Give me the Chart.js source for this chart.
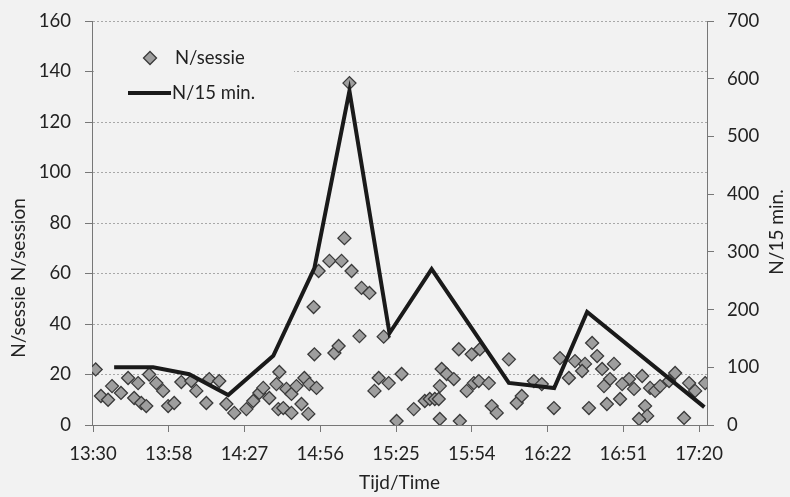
<!DOCTYPE html>
<html>
<head>
<meta charset="utf-8">
<script src="https://cdn.jsdelivr.net/npm/chart.js@4.4.1/dist/chart.umd.min.js"></script>
<style>
  html, body { margin: 0; padding: 0; background: #f2f2f2; }
  canvas { display: block; }
</style>
</head>
<body>
<canvas id="chart" width="790" height="497"></canvas>
<script>
// Minutes after 13:30 for the x axis
const tickMinutes = [0, 28.75, 57.5, 86.25, 115, 143.75, 172.5, 201.25, 230];
const tickLabels = ["13:30", "13:58", "14:27", "14:56", "15:25", "15:54", "16:22", "16:51", "17:20"];

// N/sessie (scatter, left axis)
const sessionMinutes = [
  1, 3, 5.7, 7.2, 10.6, 13.3, 15.6, 17.1, 18.3, 20.2, 21.3, 24, 26.6, 28.5, 30.8, 33.5,
  37.3, 39.2, 43, 44.1, 47.9, 50.6, 53.6, 58.2, 60.8, 63.1, 64.6, 66.9, 69.6, 70.7, 70.3,
  73.4, 75.3, 77.2, 80.2, 82.1, 84.8, 72.2, 75.3, 79.1, 81.7, 84, 83.7, 85.6, 89.7, 91.6,
  93.2, 94.3, 95.4, 97.3, 98.1, 101.1, 101.9, 104.9, 106.8, 108.4, 110.3, 112.2, 115.2,
  117.1, 121.7, 125.9, 127.8, 129.7, 131.2, 131.6, 131.6, 132.3, 134.2, 136.9, 138.8,
  139.2, 141.8, 143.7, 144.5, 146.4, 146.8, 150.2, 151.3, 153.2, 157.8, 160.8, 162.7,
  167.3, 170.3, 174.9, 177.2, 180.6, 182.9, 186.7, 185.6, 189.4, 191.3, 193.2, 197.7,
  196.2, 193.9, 203.4, 208.4, 205.3, 200.8, 211.4, 213.3, 215.2, 218.6, 220.9, 226.2,
  228.5, 232.3, 188.2, 195, 200, 209.5, 210.3, 207.2, 224.3
];
const sessionValues = [
  22, 11.5, 10, 15.4, 12.7, 18.6, 10.7, 16.6, 8.7, 7.5, 20, 16.6, 13.5, 7.5, 8.7, 17,
  17.4, 13.5, 8.7, 18.2, 17.4, 8.3, 4.8, 6.3, 9.5, 12.7, 14.7, 10.7, 16.2, 21, 6.3,
  14.3, 12.3, 15.4, 18.6, 16.2, 14.7, 6.7, 4.8, 8.3, 4.4, 28, 46.7, 61, 65, 28.5,
  31.3, 65, 74, 135.4, 61, 35.2, 54.3, 52.3, 13.5, 18.6, 35, 16.6, 1.6,
  20.2, 6.3, 9.5, 10.3, 10.3, 10.3, 15.4, 2.4, 22.2, 20.2, 18.2, 30,
  1.6, 13.5, 28, 16.6, 17.4, 30, 16.6, 7.5, 4.8, 26, 8.7, 11.5,
  17.4, 16.2, 6.7, 26.5, 18.6, 25.3, 24.2, 21.4, 32.5, 27.3, 22.2, 24.2,
  18.2, 15.4, 18.2, 19.4, 14.3, 16.2, 14.7, 13.5, 15.4, 17.4, 20.6, 16.6,
  13.5, 16.6, 6.7, 8.3, 10.3, 7.5, 3.6, 2.4, 2.8
];

// N/15 min. (line, right axis)
const lineMinutes = [8, 22.8, 36.5, 51.3, 68.4, 84, 97.3, 112.5, 128.5, 157.8, 175, 187.5, 232];
const lineValues = [100, 100, 88, 52, 120, 272, 579, 159, 270, 73, 64, 196, 31];

const FONT = "Lato, 'Open Sans', sans-serif";
const TEXT = "#222";
const AXIS = "#777";
const SIZE = 18.5;

const sessionPoints = sessionMinutes.map((m, i) => ({ x: m, y: sessionValues[i] }));
const linePoints = lineMinutes.map((m, i) => ({ x: m, y: lineValues[i] }));

// vertical axes: fixed width, no extra label padding above/below the plot
function fixVertical(width) {
  return (scale) => {
    scale.width = width;
    scale.paddingTop = 0;
    scale.paddingBottom = 0;
  };
}

// Legend box and rotated axis titles
const overlayPlugin = {
  id: 'overlay',
  afterDraw(chart) {
    const ctx = chart.ctx;
    ctx.save();
    // legend background hides the gridline behind it
    ctx.fillStyle = '#f2f2f2';
    ctx.fillRect(94, 36, 200, 72);
    // diamond
    ctx.beginPath();
    ctx.moveTo(150, 51.5); ctx.lineTo(156.5, 58); ctx.lineTo(150, 64.5); ctx.lineTo(143.5, 58);
    ctx.closePath();
    ctx.fillStyle = '#9e9e9e';
    ctx.fill();
    ctx.lineWidth = 1.3;
    ctx.strokeStyle = '#3a3a3a';
    ctx.stroke();
    // line
    ctx.beginPath();
    ctx.moveTo(128, 93); ctx.lineTo(171, 93);
    ctx.lineWidth = 4;
    ctx.strokeStyle = '#1a1a1a';
    ctx.stroke();
    ctx.fillStyle = TEXT;
    ctx.font = SIZE + "px " + FONT;
    ctx.textBaseline = 'middle';
    ctx.textAlign = 'left';
    ctx.fillText('N/sessie', 175, 58);
    ctx.fillText('N/15 min.', 172, 93);

    // axis titles
    ctx.textAlign = 'center';
    ctx.font = "19px " + FONT;
    ctx.save();
    ctx.translate(19, 278);
    ctx.rotate(-Math.PI / 2);
    ctx.fillText('N/sessie N/session', 0, 0);
    ctx.restore();
    ctx.save();
    ctx.translate(777, 232);
    ctx.rotate(-Math.PI / 2);
    ctx.fillText('N/15 min.', 0, 0);
    ctx.restore();
    ctx.restore();
  }
};

new Chart(document.getElementById('chart').getContext('2d'), {
  type: 'scatter',
  data: {
    datasets: [
      {
        label: 'N/15 min.',
        type: 'line',
        data: linePoints,
        yAxisID: 'y2',
        borderColor: '#1a1a1a',
        borderWidth: 4,
        pointRadius: 0,
        fill: false,
        tension: 0,
        order: 0
      },
      {
        label: 'N/sessie',
        data: sessionPoints,
        yAxisID: 'y',
        pointStyle: 'rectRot',
        pointRadius: 6.5,
        pointHoverRadius: 6.5,
        backgroundColor: '#9e9e9e',
        borderColor: '#3a3a3a',
        borderWidth: 1.3,
        order: 1
      }
    ]
  },
  options: {
    responsive: false,
    animation: false,
    devicePixelRatio: 1,
    layout: { padding: { top: 21, left: 0, right: 0, bottom: 0 } },
    plugins: { legend: { display: false }, tooltip: { enabled: false } },
    scales: {
      x: {
        type: 'linear',
        position: 'bottom',
        min: -0.4,
        max: 233,
        afterBuildTicks: (scale) => { scale.ticks = tickMinutes.map(v => ({ value: v })); },
        afterFit: (scale) => { scale.height = 72; },
        ticks: {
          autoSkip: false,
          maxRotation: 0,
          padding: 11,
          color: TEXT,
          font: { family: FONT, size: SIZE },
          callback: (v, i) => tickLabels[i]
        },
        grid: { drawOnChartArea: false, drawTicks: true, tickLength: 7, tickColor: AXIS },
        border: { display: true, color: AXIS, width: 1 },
        title: {
          display: true,
          text: 'Tijd/Time',
          color: TEXT,
          font: { family: FONT, size: 19 },
          padding: { top: 0, bottom: 3 }
        }
      },
      y: {
        position: 'left',
        min: 0,
        max: 160,
        afterFit: fixVertical(92),
        ticks: { stepSize: 20, padding: 14, color: TEXT, font: { family: FONT, size: SIZE } },
        grid: { color: '#a8a8a8', lineWidth: 1, drawTicks: true, tickLength: 7, tickColor: AXIS, tickBorderDash: [] },
        border: { display: true, color: AXIS, width: 1, dash: [2, 2] }
      },
      y2: {
        position: 'right',
        min: 0,
        max: 700,
        afterFit: fixVertical(83),
        ticks: { stepSize: 100, padding: 13, color: TEXT, font: { family: FONT, size: SIZE } },
        grid: { drawOnChartArea: false, drawTicks: true, tickLength: 7, tickColor: AXIS },
        border: { display: true, color: AXIS, width: 1 }
      }
    }
  },
  plugins: [overlayPlugin]
});
</script>
</body>
</html>
